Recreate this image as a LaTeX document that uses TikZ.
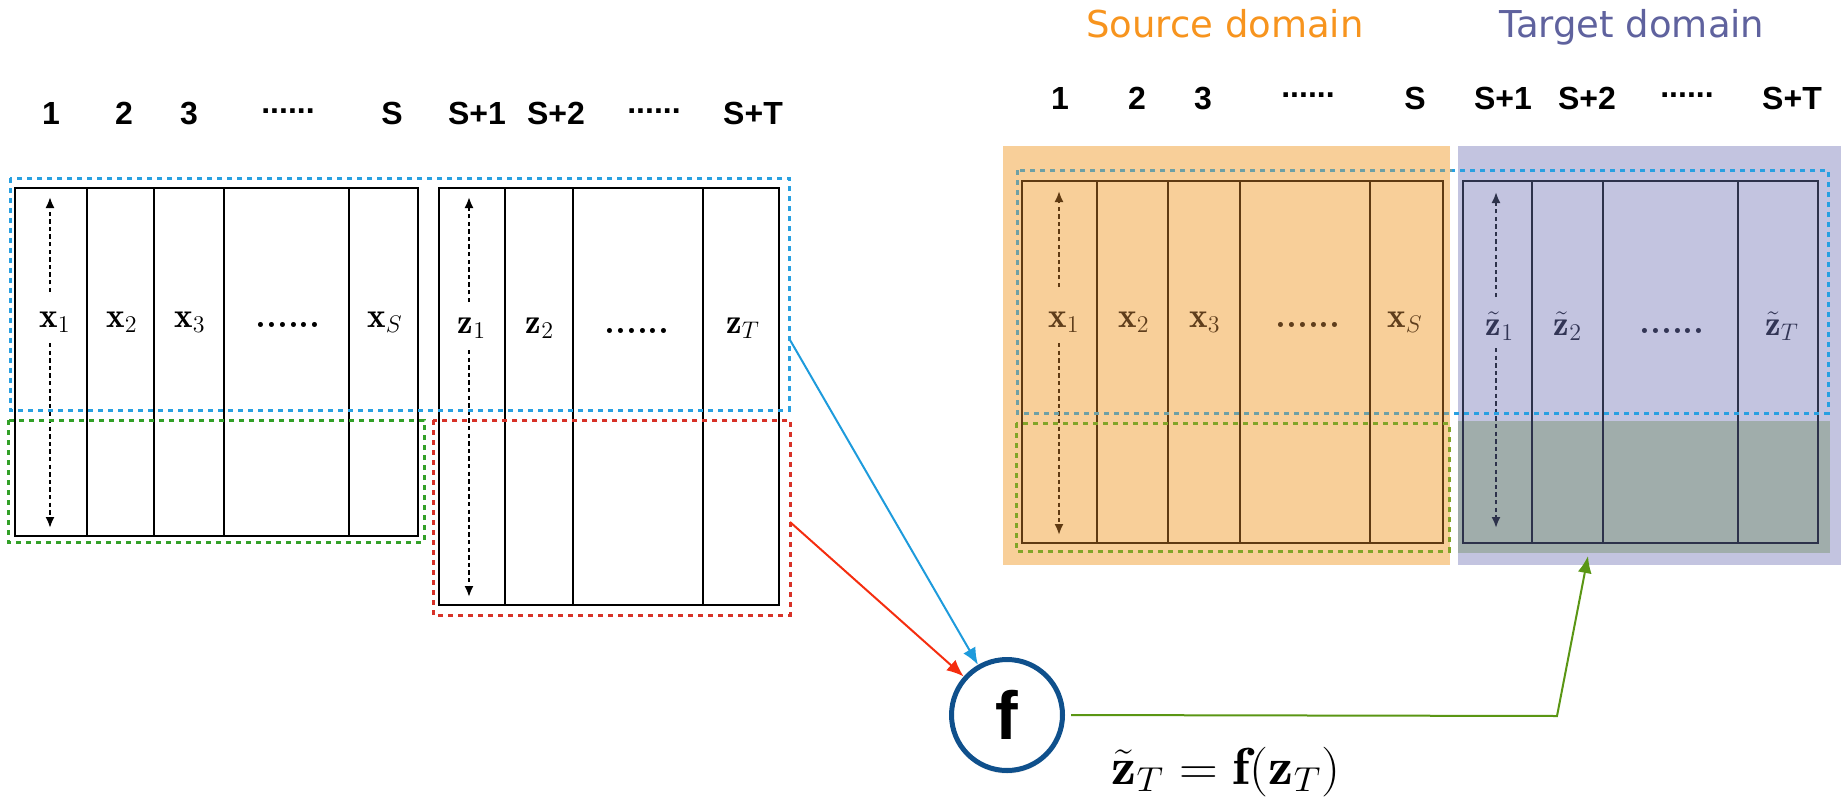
\documentclass[tikz,border=0pt]{standalone}
\usepackage{fontspec}
\usepackage{graphicx}
\newfontfamily\hdrfont{Liberation Sans}
\newfontfamily\domfont{DejaVu Sans}
\usetikzlibrary{arrows.meta,shadows}
\definecolor{srcorange}{RGB}{247,148,30}
\definecolor{tgtblue}{RGB}{95,98,158}
\definecolor{orfill}{RGB}{248,207,153}
\definecolor{pufill}{RGB}{195,196,224}
\definecolor{ggfill}{RGB}{160,173,171}
\definecolor{brownln}{RGB}{95,58,18}
\definecolor{browntx}{RGB}{95,62,28}
\definecolor{navyln}{RGB}{45,50,75}
\definecolor{navytx}{RGB}{50,53,85}
\definecolor{dblue}{RGB}{40,160,225}
\definecolor{dteal}{RGB}{110,160,165}
\definecolor{dgreen}{RGB}{50,160,40}
\definecolor{dolive}{RGB}{130,165,40}
\definecolor{dred}{RGB}{215,50,40}
\definecolor{cblue}{RGB}{30,155,220}
\definecolor{cred}{RGB}{245,45,15}
\definecolor{cgreen}{RGB}{90,150,20}
\definecolor{fcirc}{RGB}{15,80,140}
\begin{document}
\begin{tikzpicture}[x=0.5pt,y=-0.5pt,
  hnum/.style={font=\hdrfont\bfseries\fontsize{16}{19}\selectfont, anchor=base, inner sep=0pt},
  hdots/.style={font=\hdrfont\bfseries\fontsize{16}{19}\selectfont, inner sep=0pt},
  cell/.style={font=\fontsize{17.5}{20}\selectfont, anchor=base, inner sep=0pt},
  grid/.style={line width=1pt},
  dashbox/.style={line width=1.5pt, dash pattern=on 2.5pt off 2.5pt},
  darr/.style={line width=1pt, dash pattern=on 2.2pt off 1.6pt, -{Latex[length=5.5pt,width=4.5pt]}},
  conn/.style={line width=1pt, -{Latex[length=8.5pt,width=7pt]}},
  domtitle/.style={font=\domfont\fontsize{18.5}{22}\selectfont, anchor=base, inner sep=0pt}
]
\useasboundingbox (0,0) rectangle (1841,797);

% ---------------- left panel ----------------
\node[hnum] (l1) at (51,125) {1};
\node[hnum] (l2) at (124,125) {2};
\node[hnum] (l3) at (189,125) {3};
\node[hdots] (ld1) at (288,111) {......};
\node[hnum] (lS) at (392,125) {S};
\node[hnum] (lS1) at (477,125) {S+1};
\node[hnum] (lS2) at (556,125) {S+2};
\node[hdots] (ld2) at (654,111) {......};
\node[hnum] (lST) at (753,125) {S+T};

\draw[grid] (15,188) rectangle (418,536);
\foreach \x in {87,154,224,349} \draw[grid] (\x,188) -- (\x,536);
\draw[grid] (439,188) rectangle (779,605);
\foreach \x in {505,573,703} \draw[grid] (\x,188) -- (\x,605);

\node[cell] (lx1) at (55,327) {$\mathbf{x}_1$};
\node[cell] (lx2) at (122,327) {$\mathbf{x}_2$};
\node[cell] (lx3) at (190,327) {$\mathbf{x}_3$};
\node[cell] (lxd) at (288,327) {\textbf{......}};
\node[cell] (lxS) at (385,327) {$\mathbf{x}_S$};
\node[cell] (lz1) at (472,333) {$\mathbf{z}_1$};
\node[cell] (lz2) at (540,333) {$\mathbf{z}_2$};
\node[cell] (lzd) at (637,333) {\textbf{......}};
\node[cell] (lzT) at (743,333) {$\mathbf{z}_T$};

\draw[darr] (50,292) -- (50,197);
\draw[darr] (50,343) -- (50,528);
\draw[darr] (469,302) -- (469,197);
\draw[darr] (469,350) -- (469,597);

\draw[dashbox, dblue] (10,178) rectangle (789,410);
\draw[dashbox, dgreen] (8,420) rectangle (424,542);
\draw[dashbox, dred] (433,420) rectangle (790,615);

% ---------------- right panel ----------------
\node[domtitle, text=srcorange] (src) at (1225,38) {Source domain};
\node[domtitle, text=tgtblue] (tgt) at (1632,38) {Target domain};

\node[hnum] (r1) at (1060,110) {1};
\node[hnum] (r2) at (1137,110) {2};
\node[hnum] (r3) at (1203,110) {3};
\node[hdots] (rd1) at (1308,95) {......};
\node[hnum] (rS) at (1415,110) {S};
\node[hnum] (rS1) at (1503,110) {S+1};
\node[hnum] (rS2) at (1587,110) {S+2};
\node[hdots] (rd2) at (1687,95) {......};
\node[hnum] (rST) at (1792,110) {S+T};

\fill[orfill] (1003,146) rectangle (1450,565);
\fill[pufill] (1458,146) rectangle (1841,565);
\fill[ggfill] (1458,421) rectangle (1830,553);

\draw[grid, brownln] (1022,181) rectangle (1443,543);
\foreach \x in {1097,1168,1240,1370} \draw[grid, brownln] (\x,181) -- (\x,543);
\draw[grid, navyln] (1463,181) rectangle (1818,543);
\foreach \x in {1532,1603,1738} \draw[grid, navyln] (\x,181) -- (\x,543);

\node[cell, text=browntx] (rx1) at (1064,327) {$\mathbf{x}_1$};
\node[cell, text=browntx] (rx2) at (1134,327) {$\mathbf{x}_2$};
\node[cell, text=browntx] (rx3) at (1205,327) {$\mathbf{x}_3$};
\node[cell, text=browntx] (rxd) at (1308,327) {\textbf{......}};
\node[cell, text=browntx] (rxS) at (1405,327) {$\mathbf{x}_S$};
\node[cell, text=navytx] (rz1) at (1500,335) {$\tilde{\mathbf{z}}_1$};
\node[cell, text=navytx] (rz2) at (1568,335) {$\tilde{\mathbf{z}}_2$};
\node[cell, text=navytx] (rzd) at (1672,333) {\textbf{......}};
\node[cell, text=navytx] (rzT) at (1782,335) {$\tilde{\mathbf{z}}_T$};

\draw[darr, brownln] (1059,287) -- (1059,191);
\draw[darr, brownln] (1059,343) -- (1059,535);
\draw[darr, navyln] (1496,297) -- (1496,192);
\draw[darr, navyln] (1496,348) -- (1496,528);

\begin{scope}
  \clip (1003,100) rectangle (1452,600);
  \draw[dashbox, dteal] (1017,170) rectangle (1828,413);
\end{scope}
\begin{scope}
  \clip (1452,100) rectangle (1841,600);
  \draw[dashbox, dblue] (1017,170) rectangle (1828,413);
\end{scope}
\draw[dashbox, dolive] (1016,423) rectangle (1449,551);

% ---------------- function f ----------------
\node[circle, draw=fcirc, line width=2.5pt, fill=white, minimum size=55.5pt, inner sep=0pt,
      drop shadow={shadow xshift=0pt, shadow yshift=-1.5pt, opacity=0.3},
      font=\hdrfont\bfseries\fontsize{34}{38}\selectfont] (f) at (1007,715) {f};
\node[anchor=base, inner sep=0pt, font=\fontsize{26}{30}\selectfont] (eq) at (1226,784)
  {\scalebox{1.08}[1]{$\tilde{\mathbf{z}}_T=\mathbf{f}(\mathbf{z}_T)$}};

\coordinate (bsrc) at (790,340);
\coordinate (rsrc) at (790,522);
\coordinate (gbend) at (1557,716);
\coordinate (gtip) at (1588,556);
\draw[conn, cblue] (bsrc) -- (f);
\draw[conn, cred] (rsrc) -- (f);
\draw[conn, cgreen, shorten <=3pt] (f.east) -- (gbend) -- (gtip);
\end{tikzpicture}
\end{document}
